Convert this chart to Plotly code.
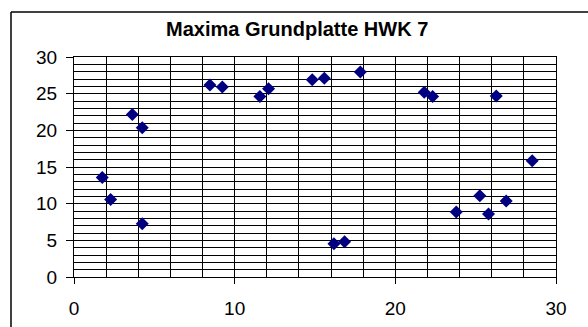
import plotly.graph_objects as go

# Measured maxima on the base plate (HWK 7)
x_vals = [1.76, 2.28, 3.63, 4.25, 4.25, 8.46, 9.23, 11.57, 12.11, 14.83, 15.58,
          16.18, 16.84, 17.82, 21.8, 22.32, 23.79, 25.26, 25.8, 26.28, 26.9, 28.52]
y_vals = [13.58, 10.58, 22.17, 20.36, 7.27, 26.18, 25.9, 24.63, 25.68, 26.9, 27.1,
          4.54, 4.81, 27.95, 25.18, 24.63, 8.86, 11.09, 8.59, 24.68, 10.36, 15.86]

title_text = "Maxima Grundplatte HWK 7"
x_ticks = [0, 10, 20, 30]
y_ticks = [0, 5, 10, 15, 20, 25, 30]

W, H = 588, 327
L, R, T, B = 74, 32, 57, 50
pw, ph = W - L - R, H - T - B

def px_x(p):
    return (p - L) / pw

def px_y(p):
    return (H - B - p) / ph

fig = go.Figure(go.Scatter(
    x=x_vals, y=y_vals, mode="markers",
    marker=dict(symbol="diamond", size=10, color="#000080",
                line=dict(width=0)),
    cliponaxis=False,
))

font = dict(family="Liberation Sans, Arial, sans-serif", size=19, color="black")

fig.update_layout(
    width=W, height=H,
    margin=dict(l=L, r=R, t=T, b=B, autoexpand=False),
    paper_bgcolor="white", plot_bgcolor="white",
    showlegend=False,
    font=font,
    xaxis=dict(
        range=[0, 30], tickvals=x_ticks, ticktext=[str(v) for v in x_ticks],
        showgrid=True, gridcolor="black", gridwidth=1,
        minor=dict(dtick=2, showgrid=True, gridcolor="black", gridwidth=1, ticks=""),
        ticks="outside", ticklen=6, tickcolor="black", tickwidth=1,
        showline=True, linecolor="black", linewidth=1, mirror=True,
        zeroline=False, fixedrange=True, ticklabelstandoff=8, automargin=False,
    ),
    yaxis=dict(
        range=[0, 30], tickvals=y_ticks, ticktext=[str(v) for v in y_ticks],
        showgrid=True, gridcolor="black", gridwidth=1,
        minor=dict(dtick=1, showgrid=True, gridcolor="black", gridwidth=1, ticks=""),
        ticks="outside", ticklen=7, tickcolor="black", tickwidth=1,
        showline=True, linecolor="black", linewidth=1, mirror=True,
        zeroline=False, fixedrange=True, ticklabelstandoff=5, automargin=False,
    ),
    shapes=[
        # chart frame (top and left edges)
        dict(type="line", xref="paper", yref="paper",
             x0=px_x(11), y0=px_y(12), x1=px_x(W + 2), y1=px_y(12),
             line=dict(color="black", width=1.5)),
        dict(type="line", xref="paper", yref="paper",
             x0=px_x(11), y0=px_y(12), x1=px_x(11), y1=px_y(H + 2),
             line=dict(color="black", width=1.5)),
    ],
    annotations=[
        dict(text="<b>" + title_text + "</b>", xref="paper", yref="paper",
             x=px_x(297), y=px_y(29), xanchor="center", yanchor="middle",
             showarrow=False,
             font=dict(family="Liberation Sans, Arial, sans-serif", size=20, color="black")),
    ],
)

fig.write_html("out.html")
